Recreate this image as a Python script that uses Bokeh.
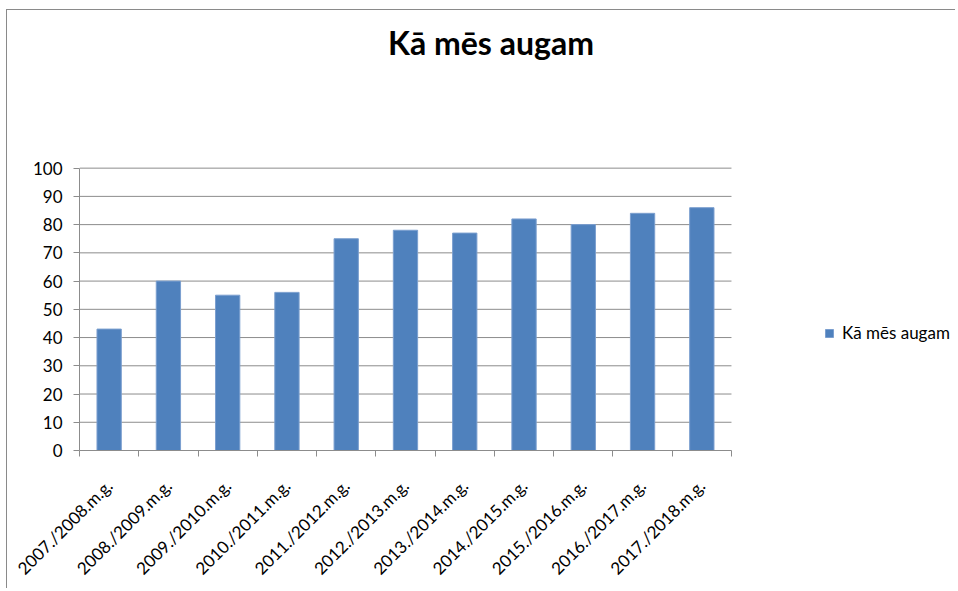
import math
from bokeh.plotting import figure
from bokeh.models import (ColumnDataSource, Range1d, FixedTicker, Legend, LegendItem, Label)
from bokeh.embed import file_html
from bokeh.resources import INLINE

categories = ["2007./2008.m.g.", "2008./2009.m.g.", "2009./2010.m.g.", "2010./2011.m.g.",
              "2011./2012.m.g.", "2012./2013.m.g.", "2013./2014.m.g.", "2014./2015.m.g.",
              "2015./2016.m.g.", "2016./2017.m.g.", "2017./2018.m.g."]
values = [43, 60, 55, 56, 75, 78, 77, 82, 80, 84, 86]
y_ticks = [0, 10, 20, 30, 40, 50, 60, 70, 80, 90, 100]
series_name = "Kā mēs augam"
title_text = "Kā mēs augam"

FONT = "Lato"
GRID = "#8c8c8c"
BAR = "#4f81bd"

n = len(categories)
y_max = y_ticks[-1]
centers = [i + 0.5 for i in range(n)]
src = ColumnDataSource(dict(x=centers, top=values, cat=categories))

# layout (pixels): frame spans to the top/right so title & legend are drawn inside it
FIG_W, FIG_H = 949, 579
LEFT, BOTTOM = 72, 138
PX_PER_CAT = 59.27
PX_PER_UNIT = 2.83
x_end = (FIG_W - LEFT) / PX_PER_CAT
y_end = (FIG_H - BOTTOM) / PX_PER_UNIT

p = figure(width=FIG_W, height=FIG_H, output_backend="svg", toolbar_location=None,
           x_range=Range1d(0, x_end), y_range=Range1d(0, y_end),
           min_border_left=LEFT, min_border_right=0, min_border_top=0,
           min_border_bottom=BOTTOM)
p.outline_line_color = None
p.background_fill_color = "white"
p.border_fill_color = "white"
p.styles = {"margin-left": "6px", "margin-top": "9px",
            "border-left": "1px solid #8a8a8a", "border-top": "1px solid #8a8a8a"}

# horizontal gridlines limited to the category area
grid_y = y_ticks[1:]
p.segment(x0=[0] * len(grid_y), x1=[n] * len(grid_y), y0=grid_y, y1=grid_y,
          line_color=GRID, line_width=1)
p.xgrid.grid_line_color = None
p.ygrid.grid_line_color = None

r = p.vbar(x="x", top="top", width=0.41, bottom=0, source=src,
           fill_color=BAR, line_color="#7b9fcf", line_width=1)

# y axis
yax = p.yaxis[0]
yax.bounds = (0, y_max)
yax.ticker = FixedTicker(ticks=y_ticks)
yax.axis_line_color = GRID
yax.major_tick_line_color = GRID
yax.major_tick_out = 6
yax.major_tick_in = 0
yax.minor_tick_line_color = None
yax.major_label_text_font = FONT
yax.major_label_text_font_size = "17px"
yax.major_label_text_color = "black"
yax.major_label_standoff = 11

# x axis
xax = p.xaxis[0]
xax.bounds = (0, n)
xax.ticker = FixedTicker(ticks=centers, minor_ticks=list(range(n + 1)))
xax.major_label_overrides = {c: lab for c, lab in zip(centers, categories)}
xax.axis_line_color = GRID
xax.major_tick_line_color = None
xax.major_tick_out = 0
xax.major_tick_in = 0
xax.minor_tick_line_color = GRID
xax.minor_tick_out = 6
xax.minor_tick_in = 0
xax.major_label_orientation = math.pi / 4
xax.major_label_text_font = FONT
xax.major_label_text_font_size = "17px"
xax.major_label_text_color = "black"
xax.major_label_standoff = 26

# title
t = Label(x=411.5, y=408, x_units="screen", y_units="screen", text=title_text,
          text_font=FONT, text_font_size="32px", text_font_style="bold",
          text_align="center", text_baseline="alphabetic", text_color="black")
p.add_layout(t)

legend = Legend(items=[LegendItem(label=series_name, renderers=[r])],
                location=(745, 107), orientation="vertical")
legend.border_line_color = None
legend.background_fill_alpha = 0
legend.padding = 0
legend.margin = 0
legend.glyph_width = 10
legend.glyph_height = 10
legend.label_height = 20
legend.label_standoff = 8
legend.label_text_font = FONT
legend.label_text_font_size = "17px"
legend.label_text_color = "black"
p.add_layout(legend)

open("out.html", "w").write(file_html(p, INLINE))
